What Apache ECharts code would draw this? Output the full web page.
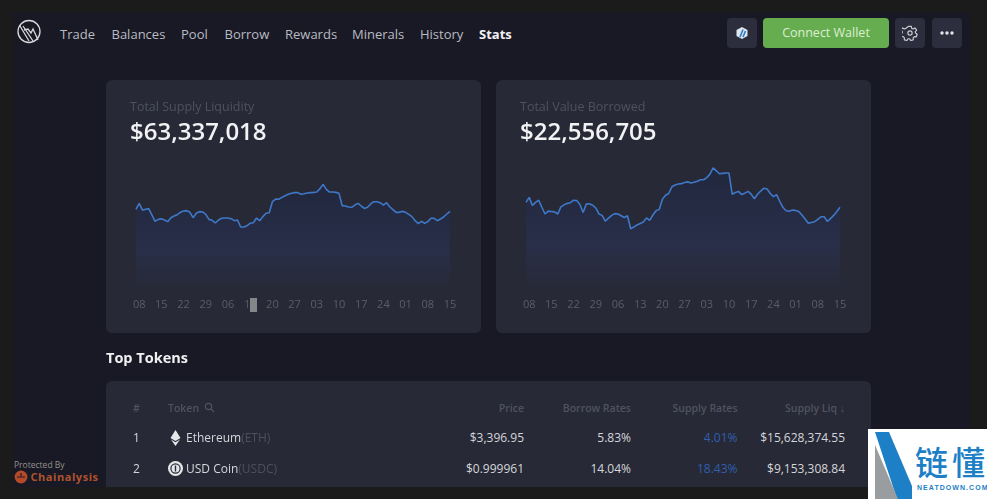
<!DOCTYPE html>
<html>
<head>
<meta charset="utf-8">
<title>Stats</title>
<script src="https://cdn.jsdelivr.net/npm/echarts@6/dist/echarts.min.js"></script>
<style>
html,body{margin:0;padding:0;width:987px;height:499px;overflow:hidden;background:#1b1b1c;font-family:"Open Sans",sans-serif;}
.abs{position:absolute;white-space:nowrap;}
#panel{position:absolute;left:13px;top:12px;width:957px;height:475px;background:#181924;}
.nav{top:25px;font-size:13px;line-height:18px;color:#b9bbc2;}
.btn{top:18px;width:30px;height:30px;border-radius:4px;background:#2c2e3e;}
#connect{left:763px;top:18px;width:126px;height:30px;line-height:30px;text-align:center;border-radius:4px;background:#66ad50;color:#dcefd2;font-size:12.5px;font-weight:500;}
.card{position:absolute;top:80px;width:375px;height:253px;border-radius:6px;background:#272936;}
#tableCard{position:absolute;left:106px;top:381px;width:765px;height:130px;border-radius:6px;background:#272936;}
.th{top:401px;font-size:10.5px;line-height:14px;font-weight:600;color:#50535f;}
.td{font-size:12px;line-height:16px;color:#d5d6da;}
.r{text-align:right;transform:translateX(-100%);}
.muted{color:#4d505c;}
.blue{color:#2f5fb0;}
#bottom{position:absolute;left:0;top:487px;width:868px;height:12px;background:#1b1b1c;}
#mark{position:absolute;left:868px;top:429px;width:119px;height:70px;background:#fff;}
</style>
</head>
<body>
<div id="panel"></div>

<svg class="abs" style="left:16px;top:19px" width="26" height="26" viewBox="0 0 26 26" fill="none" stroke="#d8d9dd" stroke-width="1.3">
  <circle cx="13" cy="12.5" r="11"/>
  <path d="M4 7 L13 22 M7 7 L17 22 M8 11 L12 10 L15 14 L17 10 L22 21"/>
</svg>
<div class="abs nav" style="left:60px">Trade</div>
<div class="abs nav" style="left:111.5px">Balances</div>
<div class="abs nav" style="left:181px">Pool</div>
<div class="abs nav" style="left:224.5px">Borrow</div>
<div class="abs nav" style="left:285px">Rewards</div>
<div class="abs nav" style="left:352px">Minerals</div>
<div class="abs nav" style="left:420px">History</div>
<div class="abs nav" style="left:479px;color:#f2f2f4;font-weight:700">Stats</div>

<div class="abs btn" style="left:727px"></div>
<svg class="abs" style="left:735px;top:26px" width="14" height="14" viewBox="0 0 14 14">
  <path d="M7 1 L12.5 4 V10 L7 13 L1.5 10 V4 Z" fill="#dfe6ee"/>
  <path d="M5 11 L8 3.5 M8 11 L10.5 5" stroke="#2d7fc4" stroke-width="1.6"/>
</svg>
<div class="abs" id="connect">Connect Wallet</div>
<div class="abs btn" style="left:895px"></div>
<svg class="abs" style="left:902px;top:25px" width="16" height="16" viewBox="0 0 24 24" fill="none" stroke="#c9cbd1" stroke-width="1.8">
  <circle cx="12" cy="12" r="3.2"/>
  <path d="M10 2h4l.6 3 2.2 1 2.6-1.6 2.6 3.2-2 2.3.2 2.2 2.5 1.7-1.2 3.9-3-.2-1.7 1.7.1 3-3.9 1-1.6-2.6h-2.4l-1.6 2.6-3.9-1 .1-3-1.7-1.7-3 .2-1.2-3.9 2.5-1.7.2-2.2-2-2.3 2.6-3.2 2.6 1.6 2.2-1z" stroke-linejoin="round"/>
</svg>
<div class="abs btn" style="left:932px"></div>
<svg class="abs" style="left:939px;top:30px" width="16" height="6"><circle cx="3" cy="3" r="1.7" fill="#e4e5e8"/><circle cx="8" cy="3" r="1.7" fill="#e4e5e8"/><circle cx="13" cy="3" r="1.7" fill="#e4e5e8"/></svg>

<div class="card" id="supplyChart" style="left:106px"></div>
<div class="card" id="borrowChart" style="left:496px"></div>
<div class="abs" style="left:250px;top:298px;width:6.5px;height:14px;background:#85868a"></div>

<div class="abs" style="left:106px;top:348px;font-size:14.5px;line-height:20px;font-weight:700;color:#f0f0f2">Top Tokens</div>
<div id="tableCard"></div>
<div class="abs th" style="left:133px">#</div>
<div class="abs th" style="left:168px">Token</div>
<svg class="abs" style="left:204px;top:402px" width="11" height="11" viewBox="0 0 11 11" fill="none" stroke="#50535f" stroke-width="1.2"><circle cx="4.5" cy="4.5" r="3.2"/><path d="M7 7 L10 10"/></svg>
<div class="abs th r" style="left:524px">Price</div>
<div class="abs th r" style="left:631px">Borrow Rates</div>
<div class="abs th r" style="left:737.5px">Supply Rates</div>
<div class="abs th r" style="left:845px">Supply Liq ↓</div>

<div class="abs td" style="left:133px;top:430px">1</div>
<svg class="abs" style="left:169px;top:430px" width="13" height="16" viewBox="0 0 13 16"><path d="M6.5 0 L11.5 8 L6.5 11 L1.5 8 Z M2 9.6 L6.5 12.2 L11 9.6 L6.5 16 Z" fill="#e6e7ea"/></svg>
<div class="abs td" style="left:186px;top:430px">Ethereum<span class="muted">(ETH)</span></div>
<div class="abs td r" style="left:524px;top:430px">$3,396.95</div>
<div class="abs td r" style="left:631px;top:430px">5.83%</div>
<div class="abs td r blue" style="left:737.5px;top:430px">4.01%</div>
<div class="abs td r" style="left:845px;top:430px">$15,628,374.55</div>

<div class="abs td" style="left:133px;top:461px">2</div>
<svg class="abs" style="left:168px;top:461px" width="15" height="15" viewBox="0 0 15 15" fill="none"><circle cx="7.5" cy="7.5" r="7.5" fill="#e6e7ea"/><circle cx="7.5" cy="7.5" r="4.6" stroke="#272936" stroke-width="1.2"/><path d="M7.5 4.5 V10.5" stroke="#272936" stroke-width="1.4"/></svg>
<div class="abs td" style="left:186px;top:461px">USD Coin<span class="muted">(USDC)</span></div>
<div class="abs td r" style="left:524px;top:461px">$0.999961</div>
<div class="abs td r" style="left:631px;top:461px">14.04%</div>
<div class="abs td r blue" style="left:737.5px;top:461px">18.43%</div>
<div class="abs td r" style="left:845px;top:461px">$9,153,308.84</div>

<div id="bottom"></div>

<div class="abs" style="left:14px;top:459px;font-size:8.5px;line-height:12px;color:#96928c">Protected By</div>
<svg class="abs" style="left:14px;top:470px" width="14" height="14"><circle cx="7" cy="7" r="6.4" fill="#b54a2a"/><path d="M3 7 H11 M7 3 V6" stroke="#181924" stroke-width="1.2"/></svg>
<div class="abs" style="left:30.5px;top:470px;font-size:11px;line-height:14px;font-weight:700;letter-spacing:.55px;color:#b0522f">Chainalysis</div>

<div id="mark">
  <svg class="abs" style="left:7px;top:3px" width="37" height="67" viewBox="0 0 37 67">
    <rect x="0" y="0" width="37" height="67" fill="#fff"/>
    <path d="M0 5 L21 5 L21 53 Z" fill="#fff"/>
    <path d="M0 0 L14 0 L37 54 L37 67 L22 67 Z" fill="#1d7fc6"/>
    <path d="M0 13 L23 67 L0 67 Z" fill="#9a9da0"/>
  </svg>
  <div class="abs" style="left:47px;top:10px;font-family:'Noto Sans CJK SC';font-size:33px;line-height:44px;font-weight:500;letter-spacing:4px;color:#1d7fc6">链懂</div>
  <div class="abs" style="left:49px;top:54px;font-family:'Liberation Sans';font-size:7px;line-height:10px;font-weight:700;letter-spacing:1.05px;color:#1d7fc6">NEATDOWN.COM</div>
</div>

<script>
var days = [
    '07','08','09','10','11','12','13','14','15','16','17','18','19','20','21','22','23','24','25','26','27','28','29','30',
    '01','02','03','04','05','06','07','08','09','10','11','12','13','14','15','16','17','18','19','20','21','22','23','24','25','26','27','28','29','30','31',
    '01','02','03','04','05','06','07','08','09','10','11','12','13','14','15','16','17','18','19','20','21','22','23','24','25','26','27','28','29','30',
    '01','02','03','04','05','06','07','08','09','10','11','12','13','14','15'
];

// 单位: 百万美元
var supplyValues = [
    65.0,70.0,64.5,65.0,65.6,60.3,55.0,56.6,57.2,56.1,
    54.7,58.0,59.4,60.5,62.5,63.6,63.9,62.5,58.0,61.7,
    63.1,62.8,60.8,56.6,55.8,53.6,56.1,57.5,57.7,57.7,
    57.2,55.5,56.1,50.2,50.2,51.3,53.3,53.8,57.7,55.5,
    58.9,61.7,62.2,71.4,73.6,73.4,75.0,76.4,77.6,78.4,
    79.0,79.0,77.6,78.1,78.7,79.0,79.2,79.5,82.3,85.9,
    81.7,79.5,79.5,79.2,78.4,68.1,67.8,67.0,66.7,68.6,
    70.0,67.8,65.8,66.7,69.5,71.4,71.4,70.6,68.6,70.6,
    67.2,64.7,62.5,62.5,63.3,62.5,60.8,58.9,55.5,53.0,
    55.0,53.3,54.7,57.5,57.5,55.5,56.9,58.6,61.1,63.3
];

var borrowValues = [
    24.0,25.4,23.1,24.0,24.6,22.6,20.7,21.5,21.4,21.3,
    20.7,22.7,23.3,23.7,23.9,24.6,24.5,23.4,21.1,23.5,
    23.6,23.2,22.4,20.7,20.3,18.7,19.5,20.3,20.8,20.7,
    20.2,19.7,20.2,16.5,17.0,17.6,18.0,18.4,19.6,18.9,
    20.4,21.6,22.0,24.9,26.0,26.5,28.4,28.9,29.2,29.3,
    29.6,29.8,29.5,29.7,30.0,30.4,30.4,31.0,32.0,33.8,
    32.9,32.1,32.2,32.3,32.3,26.3,26.8,27.1,26.2,26.6,
    27.1,26.3,25.0,26.3,27.2,28.0,27.8,26.5,25.6,26.2,
    24.3,22.6,21.6,21.5,21.8,21.7,21.4,20.4,19.3,18.1,
    18.3,18.5,19.2,19.9,19.9,18.6,19.4,20.3,21.4,22.6
];

var supplyTitle = 'Total Supply Liquidity';
var supplyTotal = '$63,337,018';
var borrowTitle = 'Total Value Borrowed';
var borrowTotal = '$22,556,705';

function makeOption(title, total, values, yMax) {
    return {
        animation: false,
        title: [
            {text: title, left: 19, top: 16, textStyle: {color: '#4f525e', fontSize: 12.5, fontWeight: 400, fontFamily: 'Open Sans'}},
            {text: total, left: 19, top: 36, textStyle: {color: '#f2f2f4', fontSize: 24, fontWeight: 600, fontFamily: 'Open Sans'}}
        ],
        grid: {left: 30, width: 314, top: 80, height: 127},
        xAxis: {
            type: 'category',
            boundaryGap: false,
            data: days,
            axisLine: {show: false},
            axisTick: {show: false},
            axisLabel: {
                // 每 7 天显示一个标签
                interval: function (i) { return (i - 1) % 7 === 0; },
                margin: 12,
                color: '#5b5e69',
                fontSize: 11,
                fontFamily: 'Open Sans'
            }
        },
        yAxis: {type: 'value', min: 0, max: yMax, show: false, splitLine: {show: false}},
        series: [{
            type: 'line',
            data: values,
            showSymbol: false,
            smooth: false,
            lineStyle: {color: '#3f78c8', width: 1.6},
            areaStyle: {
                color: new echarts.graphic.LinearGradient(0, 0, 0, 1, [
                    {offset: 0, color: '#1f2740'},
                    {offset: 0.65, color: '#2a3151'},
                    {offset: 1, color: '#282a38'}
                ])
            }
        }]
    };
}

echarts.init(document.getElementById('supplyChart')).setOption(makeOption(supplyTitle, supplyTotal, supplyValues, 106.3));
echarts.init(document.getElementById('borrowChart')).setOption(makeOption(borrowTitle, borrowTotal, borrowValues, 36));
</script>
</body>
</html>
